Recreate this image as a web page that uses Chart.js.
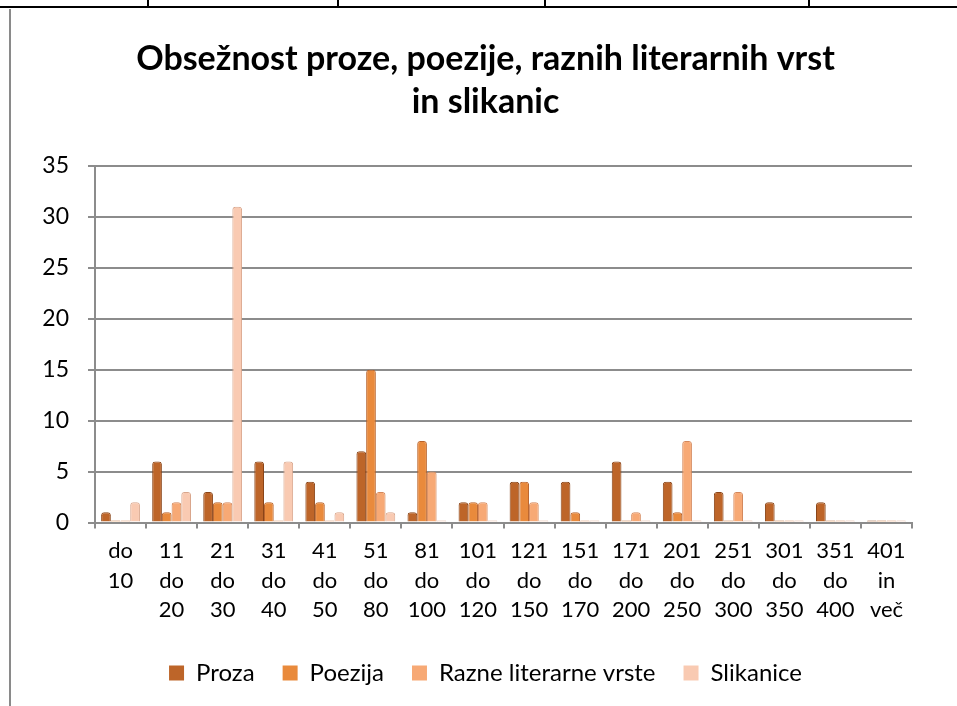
<!DOCTYPE html>
<html>
<head>
<meta charset="utf-8">
<script src="https://cdn.jsdelivr.net/npm/chart.js@4"></script>
<style>
  html, body { margin: 0; padding: 0; background: #fff; }
  #wrap { position: relative; width: 957px; height: 706px; overflow: hidden; }
  #box { position: absolute; left: 0; top: 0; width: 957px; height: 706px; }
  .ln { position: absolute; background: #000; }
</style>
</head>
<body>
<div id="wrap">
  <div id="box"><canvas id="c"></canvas></div>
  <div class="ln" style="left:0;top:6px;width:957px;height:2px;"></div>
  <div class="ln" style="left:147px;top:0;width:2px;height:7px;"></div>
  <div class="ln" style="left:337px;top:0;width:2px;height:7px;"></div>
  <div class="ln" style="left:544px;top:0;width:2px;height:7px;"></div>
  <div class="ln" style="left:808px;top:0;width:2px;height:7px;"></div>
  <div class="ln" style="left:9px;top:9px;width:2px;height:697px;background:#8a8a8a;"></div>
</div>
<script>
const categories = [
  ['do', '10'], ['11', 'do', '20'], ['21', 'do', '30'], ['31', 'do', '40'],
  ['41', 'do', '50'], ['51', 'do', '80'], ['81', 'do', '100'], ['101', 'do', '120'],
  ['121', 'do', '150'], ['151', 'do', '170'], ['171', 'do', '200'], ['201', 'do', '250'],
  ['251', 'do', '300'], ['301', 'do', '350'], ['351', 'do', '400'], ['401', 'in', 'več']
];
const proza     = [1, 6, 3, 6, 4, 7, 1, 2, 4, 4, 6, 4, 3, 2, 2, 0];
const poezija   = [0, 1, 2, 2, 2, 15, 8, 2, 4, 1, 0, 1, 0, 0, 0, 0];
const razne     = [0, 2, 2, 0, 0, 3, 5, 2, 2, 0, 1, 8, 3, 0, 0, 0];
const slikanice = [2, 3, 31, 6, 1, 1, 0, 0, 0, 0, 0, 0, 0, 0, 0, 0];
const seriesNames = ['Proza', 'Poezija', 'Razne literarne vrste', 'Slikanice'];
const titleLines = ['Obsežnost proze, poezije, raznih literarnih vrst', 'in slikanic'];
const yTicks = [0, 5, 10, 15, 20, 25, 30, 35];

const fills   = ['#bd6529', '#e98a3c', '#f7a975', '#f9cab2'];
const strokes = ['#8a4518', '#b8622a', '#d4875a', '#d9a68c'];
const FONT = 'Lato, "Open Sans", sans-serif';

const ds = [proza, poezija, razne, slikanice].map((d, i) => ({
  label: seriesNames[i],
  data: d,
  backgroundColor: fills[i],
  borderColor: strokes[i],
  borderWidth: 1,
  borderSkipped: 'bottom',
  borderRadius: { topLeft: 3, topRight: 3, bottomLeft: 0, bottomRight: 0 },
  minBarLength: 2,
  categoryPercentage: 0.76,
  barPercentage: 1.0
}));

new Chart(document.getElementById('c'), {
  type: 'bar',
  data: { labels: categories, datasets: ds },
  options: {
    responsive: true,
    maintainAspectRatio: false,
    animation: false,
    events: [],
    layout: { padding: { left: 14, right: 0, top: 0, bottom: 11 } },
    plugins: {
      tooltip: { enabled: false },
      title: {
        display: true,
        text: titleLines,
        color: '#000',
        font: { family: FONT, size: 34, weight: 'bold', lineHeight: 1.25 },
        padding: { top: 38, bottom: 43 }
      },
      legend: {
        position: 'bottom',
        labels: {
          color: '#000',
          font: { family: FONT, size: 24 },
          boxWidth: 15,
          boxHeight: 15,
          padding: 28,
          generateLabels: (chart) => chart.data.datasets.map((d, i) => ({
            text: d.label, fillStyle: fills[i], strokeStyle: fills[i], lineWidth: 0,
            datasetIndex: i, fontColor: '#000'
          }))
        }
      }
    },
    scales: {
      x: {
        grid: { display: true, drawOnChartArea: false, drawTicks: true, tickLength: 6, color: '#8c8c8c', lineWidth: 2, offset: true },
        border: { display: true, color: '#8c8c8c', width: 2 },
        ticks: { color: '#000', font: { family: FONT, size: 22, lineHeight: 1.34 }, maxRotation: 0, minRotation: 0, autoSkip: false, padding: 8 }
      },
      y: {
        min: 0, max: 35,
        afterBuildTicks: (s) => { s.ticks = yTicks.map(v => ({ value: v })); },
        afterFit: (s) => { s.width = 81; },
        grid: { color: '#8c8c8c', lineWidth: 2, tickLength: 7, drawTicks: true },
        border: { display: true, color: '#8c8c8c', width: 2 },
        ticks: { color: '#000', font: { family: FONT, size: 23 }, padding: 19 }
      },
      yRight: {
        position: 'right',
        display: true,
        afterFit: (s) => { s.width = 45; },
        grid: { display: false, drawTicks: false },
        border: { display: false },
        ticks: { display: false }
      }
    }
  }
});
</script>
</body>
</html>
